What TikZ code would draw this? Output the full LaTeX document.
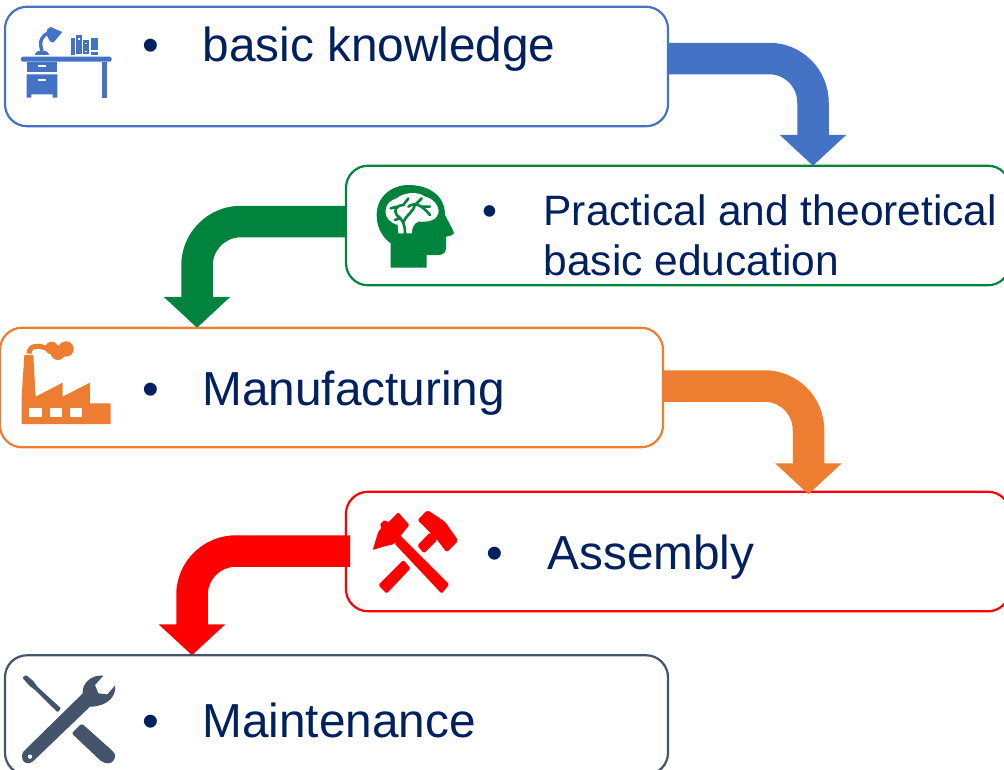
\documentclass[tikz,border=0pt]{standalone}
\usepackage{fontspec}
\setmainfont{Liberation Sans}
\usetikzlibrary{arrows.meta,calc}
\definecolor{cblue}{HTML}{4472C4}
\definecolor{cgreen}{HTML}{00843D}
\definecolor{corange}{HTML}{ED7D31}
\definecolor{cred}{HTML}{FF0000}
\definecolor{cslate}{HTML}{44546A}
\definecolor{cnavy}{HTML}{002060}
\tikzset{
  stagebox/.style={draw,fill=white,line width=2.2pt,rounded corners=22pt,inner sep=0pt,outer sep=0pt,minimum height=119.5pt},
  lbl/.style={anchor=base west,inner sep=0pt,outer sep=0pt,text=cnavy,font=\fontsize{47.75}{50}\selectfont},
  lblsmall/.style={lbl,font=\fontsize{42.5}{50}\selectfont},
  bendarrow/.style={line width=31.5pt,rounded corners=44pt,-{Triangle[length=31pt,width=65pt]}},
  icon/.style={shift={#1},scale=1/3}
}
\begin{document}
\begin{tikzpicture}[x=1pt,y=-1pt]
\useasboundingbox (0,0) rectangle (1004,769);
\clip (0,0) rectangle (1004,769);
% boxes
\node[stagebox,draw=cblue,minimum width=663pt] (b1) at (336.5,66.5) {};
\node[stagebox,draw=cgreen,minimum width=664pt] (b2) at (678,225.5) {};
\node[stagebox,draw=corange,minimum width=663pt] (b3) at (331.5,387.5) {};
\node[stagebox,draw=cred,minimum width=664pt] (b4) at (678,551.5) {};
\node[stagebox,draw=cslate,minimum width=663pt] (b5) at (336.5,715) {};
% connectors
\draw[bendarrow,draw=cblue,color=cblue] ([yshift=8pt]b1.east) -| ([xshift=135pt]b2.north);
\draw[bendarrow,draw=cgreen,color=cgreen] ([yshift=4pt]b2.west) -| ([xshift=-134.5pt]b3.north);
\draw[bendarrow,draw=corange,color=corange] ([yshift=1.5pt]b3.east) -| ([xshift=130.5pt,yshift=-2.5pt]b4.north);
\draw[bendarrow,draw=cred,color=cred] ([xshift=4pt,yshift=0.5pt]b4.west) -| ([xshift=-144.5pt]b5.north);
% labels
\node[lbl] (d1) at (142.5,61.5) {•};
\node[lbl] (t1) at (202.5,61.5) {basic knowledge};
\node[lblsmall] (d2) at (482.5,225.5) {•};
\node[lblsmall] (t2a) at (543.5,225.5) {Practical and theoretical};
\node[lblsmall] (t2b) at (543.5,275.5) {basic education};
\node[lbl] (d3) at (142.5,405.5) {•};
\node[lbl] (t3) at (202.5,405.5) {Manufacturing};
\node[lbl] (d4) at (486.5,569.5) {•};
\node[lbl] (t4) at (547.5,569.5) {Assembly};
\node[lbl] (d5) at (142.5,737.5) {•};
\node[lbl] (t5) at (202.5,737.5) {Maintenance};
% desk icon
\begin{scope}[icon={(0,0)}]
\fill[cblue,rounded corners=2pt] (63,170) rectangle (335,185);
\fill[cblue] (80,185) rectangle (172,217);
\fill[cblue] (80,223) -- (172,223) -- (172,293) -- (158,293) -- (158,283) -- (94,283) -- (94,293) -- (80,293) -- cycle;
\fill[cblue] (305,185) rectangle (320,293);
\fill[white] (114,195) rectangle (138,201);
\fill[white] (114,237) rectangle (138,244);
\fill[cblue] (106,164) .. controls (106,146) and (146,146) .. (146,164) -- cycle;
\draw[cblue,line width=3.4pt] (126,152) .. controls (116,125) and (125,103) .. (150,98);
\fill[cblue] (142,88) -- (152,81) -- (187,96) -- (160,128) -- (150,124) -- (138,102) -- cycle;
\fill[cblue] (213,114) rectangle (225,165);
\fill[cblue] (229,106) rectangle (245,163);
\fill[cblue] (250,120) rectangle (268,163);
\fill[cblue] (273,114) rectangle (294,150);
\fill[cblue] (273,155) rectangle (294,165);
\fill[white] (234,113) rectangle (240,120);
\fill[white] (256,128) rectangle (261,132);
\fill[white] (256,153) rectangle (261,157);
\end{scope}
% head icon
\begin{scope}[icon={(350,165)}]
\fill[cgreen] (122,308) -- (122,235) .. controls (95,215) and (80,185) .. (80,150)
  .. controls (80,95) and (125,60) .. (175,60) .. controls (235,60) and (285,90) .. (285,150)
  -- (310,198) .. controls (316,208) and (305,212) .. (288,215) -- (288,250)
  .. controls (288,265) and (275,270) .. (265,270) -- (230,270) -- (230,308) -- cycle;
\fill[white] (145,205) -- (143,180) .. controls (120,172) and (105,160) .. (107,135)
  .. controls (108,115) and (125,105) .. (140,100) .. controls (160,82) and (205,78) .. (225,95)
  .. controls (250,100) and (270,125) .. (265,145) .. controls (262,165) and (235,172) .. (205,170)
  .. controls (190,175) and (187,190) .. (185,205) -- cycle;
\draw[cgreen,line width=2.6pt,line cap=round]
  (165,205) .. controls (165,180) and (160,165) .. (140,150)
  (140,150) .. controls (130,135) and (140,120) .. (160,120)
  (150,160) -- (135,165)
  (160,170) .. controls (170,150) and (190,140) .. (195,120)
  (160,120) -- (175,100)
  (175,125) .. controls (195,110) and (215,120) .. (240,150)
  (215,125) -- (240,125)
  (195,120) -- (215,100)
  (140,125) -- (122,130);
\end{scope}
% factory icon
\begin{scope}[icon={(0,330)}]
\fill[corange] (65,282) -- (65,200) -- (73,75) -- (100,75) -- (107,200) -- (188,158) -- (188,200) -- (270,158) -- (270,220) -- (332,220) -- (332,282) -- cycle;
\fill[white] (88,234) rectangle (125,261);
\fill[white] (149,234) rectangle (186,261);
\fill[white] (210,234) rectangle (247,261);
\draw[corange,line width=5pt] (87,71) .. controls (89,45) and (115,42) .. (150,60);
\fill[corange] (155,54) circle (19);
\fill[corange] (198,57) circle (23);
\fill[corange] (174,68) circle (22);
\end{scope}
% hammers icon
\begin{scope}[icon={(350,495)}]
\fill[cred,rounded corners=1.5pt] (150,120) -- (298,268) -- (275,296) -- (133,145) -- cycle;
\fill[cred,rounded corners=1pt] (68,165) -- (85,110) -- (95,98) -- (90,88) -- (103,75) -- (115,82) -- (145,52) -- (178,90) -- (150,125) -- (130,148) -- (100,155) -- cycle;
\fill[cred,rounded corners=1.5pt] (160,195) -- (182,220) -- (110,296) -- (85,270) -- cycle;
\fill[cred,rounded corners=1.5pt] (240,112) -- (262,135) -- (222,175) -- (202,152) -- cycle;
\fill[cred,rounded corners=2pt] (203,75) -- (232,45) -- (285,80) -- (325,137) -- (290,172) -- (262,135) -- (240,112) -- cycle;
\end{scope}
% tools icon
\begin{scope}[icon={(0,655)}]
\fill[cslate,rounded corners=1pt] (67,68) -- (78,60) -- (100,78) -- (112,95) -- (183,160) -- (173,172) -- (105,105) -- (88,92) -- cycle;
\fill[cslate,rounded corners=2pt] (215,235) -- (245,205) -- (340,290) .. controls (350,305) and (340,325) .. (320,325) -- (305,320) -- cycle;
\fill[cslate] (70,290) -- (228,135) -- (248,115) .. controls (245,85) and (275,58) .. (310,62)
  -- (285,90) -- (295,115) -- (322,118) -- (345,92) .. controls (350,125) and (320,155) .. (270,155)
  -- (100,318) .. controls (88,330) and (70,325) .. (67,312) .. controls (65,302) and (66,296) .. (70,290) -- cycle;
\fill[white] (90,305) circle (6.5);
\end{scope}
\end{tikzpicture}
\end{document}
